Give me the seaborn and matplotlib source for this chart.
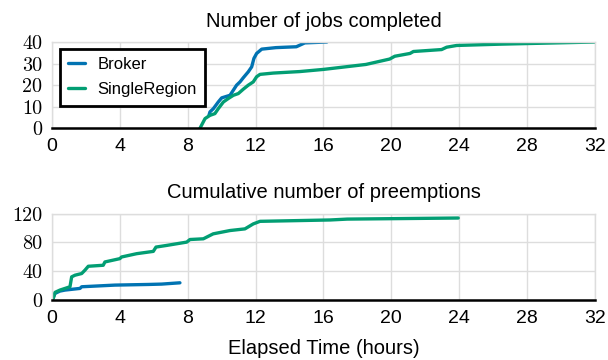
import matplotlib
matplotlib.use("Agg")
import matplotlib.pyplot as plt
import seaborn as sns

# jobs completed over time (hours)
broker_jobs_t = [9.25, 9.31, 9.51, 9.8, 10.0, 10.49, 10.69, 10.88, 11.08, 11.27, 11.57, 11.77,
                 11.9, 12.06, 12.36, 13.2, 14.4, 14.9, 16.2]
broker_jobs_n = [6, 7.6, 9.1, 12.2, 14.1, 15.3, 17.7, 20, 21.5, 23.4, 26.2, 28.5,
                 32.4, 34.7, 36.7, 37.4, 37.8, 39.6, 40]

single_jobs_t = [8.72, 9.02, 9.31, 9.6, 9.8, 10.1, 10.39, 10.69, 10.98, 11.27, 11.57, 11.86,
                 12.06, 12.26, 13.04, 14.6, 16.0, 18.5, 19.9, 20.2, 21.1, 21.3, 22.96,
                 23.26, 23.85, 26.4, 32.0]
single_jobs_n = [0, 4.5, 6, 6.8, 9.1, 12.2, 13.8, 15.3, 16.1, 18.1, 20, 21.5,
                 23.9, 25, 25.6, 26.3, 27.3, 29.6, 32.1, 33.4, 34.7, 35.6, 36.5,
                 37.6, 38.4, 39.0, 40]

# cumulative preemptions over time (hours)
broker_pre_t = [0, 0.18, 0.47, 0.77, 1.65, 1.75, 3.71, 5.68, 6.46, 7.54]
broker_pre_n = [0, 9.2, 12.4, 13.8, 16.1, 18.4, 20.7, 21.6, 22.1, 23.9]

single_pre_t = [0.08, 0.18, 0.47, 0.77, 1.06, 1.16, 1.36, 1.75, 1.94, 2.14, 3.02, 3.12, 4.0,
                4.1, 4.99, 5.97, 6.13, 6.76, 7.94, 8.13, 8.92, 9.5, 10.49, 11.37, 11.86,
                12.26, 16.4, 17.4, 23.94]
single_pre_n = [2.3, 10.6, 13.8, 16.1, 18.4, 32.2, 34.5, 36.8, 41.4, 46.9, 48.3, 52.9, 57.5,
                59.8, 64.4, 67.6, 73.6, 75.9, 80.5, 84.1, 85.1, 92, 96.6, 98.9, 105.8,
                109.4, 111.3, 112.5, 114]

x_ticks = [0, 4, 8, 12, 16, 20, 24, 28, 32]

sns.set_theme(style="whitegrid")
plt.rcParams["font.family"] = ["Liberation Sans", "DejaVu Sans"]
plt.rcParams["text.color"] = "black"
plt.rcParams["axes.labelcolor"] = "black"
plt.rcParams["xtick.color"] = "black"
plt.rcParams["ytick.color"] = "black"
pal = sns.color_palette("colorblind")
c_broker, c_single = pal[0], pal[2]

fig, axes = plt.subplots(2, 1, figsize=(6.08, 3.6), dpi=100)
fig.subplots_adjust(left=0.0855, right=0.9786, top=0.8833, bottom=0.1667, hspace=0.99)

ax = axes[0]
sns.lineplot(x=broker_jobs_t, y=broker_jobs_n, color=c_broker, lw=2.4, label="Broker", ax=ax, sort=False)
sns.lineplot(x=single_jobs_t, y=single_jobs_n, color=c_single, lw=2.4, label="SingleRegion", ax=ax, sort=False)
ax.set_ylim(0, 40)
ax.set_yticks([0, 10, 20, 30, 40])
ax.set_title("Number of jobs completed", fontsize=14.5, pad=11)
leg = ax.legend(loc="upper left", bbox_to_anchor=(0.015, 0.92), borderaxespad=0, fontsize=12,
                frameon=True, fancybox=False, handlelength=1.0, borderpad=0.5,
                labelspacing=0.6, handletextpad=0.75)
leg.get_frame().set_edgecolor("black")
leg.get_frame().set_linewidth(2)
leg.get_frame().set_alpha(1)

ax = axes[1]
sns.lineplot(x=broker_pre_t, y=broker_pre_n, color=c_broker, lw=2.4, ax=ax, sort=False)
sns.lineplot(x=single_pre_t, y=single_pre_n, color=c_single, lw=2.4, ax=ax, sort=False)
ax.set_ylim(0, 120)
ax.set_yticks([0, 40, 80, 120])
ax.set_title("Cumulative number of preemptions", fontsize=14.5, pad=11)
ax.set_xlabel("Elapsed Time (hours)", fontsize=14.5, labelpad=9)

for ax in axes:
    ax.set_xlim(0, 32)
    ax.set_xticks(x_ticks)
    ax.grid(True, color="#dddddd", lw=1)
    for s in ["top", "right", "left"]:
        ax.spines[s].set_color("#dddddd")
        ax.spines[s].set_linewidth(1)
    ax.spines["bottom"].set_color("black")
    ax.spines["bottom"].set_linewidth(1.8)
    ax.tick_params(axis="x", labelsize=14, pad=7, length=0)
    ax.tick_params(axis="y", pad=7, length=0)
    for lab in ax.get_yticklabels():
        lab.set_family("cmr10")
        lab.set_fontsize(14.5)

fig.savefig("out.png", dpi=100)
